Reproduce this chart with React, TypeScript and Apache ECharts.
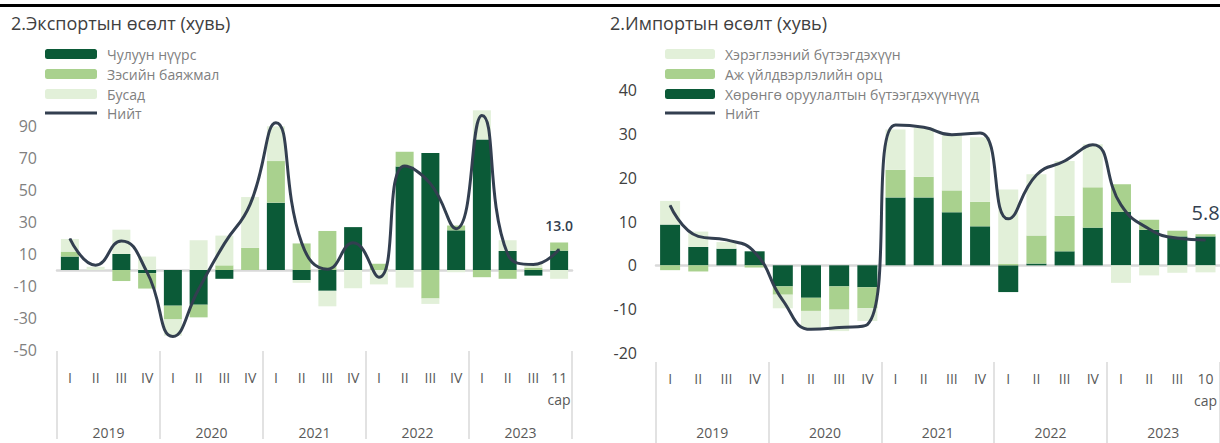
import React, { useEffect, useRef } from "react";
import * as echarts from "echarts";

const FONT = "'Open Sans', 'Noto Sans', sans-serif";

const quartersExp = ["I", "II", "III", "IV", "I", "II", "III", "IV", "I", "II", "III", "IV", "I", "II", "III", "IV", "I", "II", "III", "11\nсар"];
const quartersImp = ["I", "II", "III", "IV", "I", "II", "III", "IV", "I", "II", "III", "IV", "I", "II", "III", "IV", "I", "II", "III", "10\nсар"];
const years = ["2019", "2020", "2021", "2022", "2023"];

// Export growth contributions
const expCoal = [8.4, 0, 10.0, -2.0, -22.3, -21.7, -5.5, 0, 42.1, -6.3, -13.0, 26.8, 0, 64.7, 73.2, 24.8, 81.6, 11.9, -3.5, 12.1];
const expCopper = [3.1, 0, -6.9, -9.6, -8.6, -7.9, 2.9, 13.9, 26.0, 16.6, 24.4, 0, 3.9, 9.2, -17.8, 3.0, -4.5, -5.5, 1.5, 5.1];
const expOther = [7.9, 2.0, 15.2, 8.4, -10.2, 18.6, 18.6, 31.7, 21.7, -1.7, -9.7, -11.4, -9.0, -11.0, -3.4, -1.4, 18.2, 6.7, 3.0, -5.5];
const expTotal = [19.6, 3.0, 18.2, -1.5, -41.5, -12.0, 16.5, 41.0, 92.0, 17.0, 0.5, 17.0, -4.5, 65.0, 54.0, 25.8, 96.5, 10.0, 3.5, 13.0];

// Import growth contributions
const impCapital = [9.3, 4.2, 3.8, 3.2, -4.8, -7.4, -4.8, -5.0, 15.5, 15.5, 12.1, 8.9, -6.1, 0.4, 3.2, 8.6, 12.2, 8.1, 6.6, 6.6];
const impInputs = [-1.1, -1.4, 0, -0.5, -1.9, -3.0, -5.3, -4.8, 6.3, 4.7, 5.0, 5.6, 0.3, 6.4, 8.1, 9.2, 6.3, 2.3, 1.3, 0.5];
const impConsumer = [5.4, 3.5, 1.5, 0, -3.1, -4.1, -4.9, -2.9, 9.2, 11.2, 12.6, 14.7, 17.0, 14.0, 12.5, 9.8, -4.0, -2.3, -1.7, -1.6];
const impTotal = [13.7, 6.6, 5.8, 3.0, -8.0, -14.6, -14.2, -13.5, 32.0, 31.5, 29.8, 30.2, 10.6, 20.6, 23.8, 27.5, 13.8, 8.3, 6.2, 5.8];

const DARK = "#0b5a37";
const MID = "#a9d18e";
const LIGHT = "#e2f0d9";
const LINE = "#333f50";

function lastLabelData(arr: number[], fontSize: number, dy: number, weight: number) {
  return arr.map((v, i) =>
    i === arr.length - 1
      ? {
          value: v,
          label: {
            show: true,
            position: "top",
            distance: dy,
            formatter: (p: any) => Number(p.value).toFixed(1),
            fontSize,
            fontWeight: weight,
            color: LINE,
            fontFamily: FONT,
          },
        }
      : v
  );
}

export default function App() {
  const ref = useRef<HTMLDivElement>(null);
  useEffect(() => {
    if (!ref.current) return;
    const chart = echarts.init(ref.current, undefined, { renderer: "svg" });
    const qLabel = { interval: 0, margin: 16, fontSize: 14, color: "#595959", lineHeight: 22, fontFamily: FONT };
    const legendText = { fontSize: 14, color: "#808080", padding: [0, 0, 0, 5], lineHeight: 14, fontFamily: FONT };
    const lineLegend = (left: number, name: string) => ({
      orient: "vertical", left, top: 101, itemWidth: 52, itemHeight: 3, icon: "rect",
      data: [{ name, icon: "rect", itemStyle: { color: LINE } }],
      textStyle: legendText, selectedMode: false,
    });
    const option: any = {
      animation: false,
      textStyle: { fontFamily: FONT },
      graphic: [
        { type: "rect", shape: { x: 0, y: 4, width: 1220, height: 3 }, style: { fill: "#000" } },
      ],
      title: [
        { text: "2.Экспортын өсөлт (хувь)", left: 6, top: 9, textStyle: { fontSize: 18, fontWeight: "normal", color: "#404040", fontFamily: FONT } },
        { text: "2.Импортын өсөлт (хувь)", left: 605, top: 9, textStyle: { fontSize: 18, fontWeight: "normal", color: "#404040", fontFamily: FONT } },
      ],
      legend: [
        {
          orient: "vertical", left: 40, top: 42, itemWidth: 52, itemHeight: 10, itemGap: 6,
          data: ["Чулуун нүүрс", "Зэсийн баяжмал", "Бусад"],
          textStyle: legendText, selectedMode: false,
        },
        lineLegend(40, "Нийт"),
        {
          orient: "vertical", left: 660, top: 42, itemWidth: 50, itemHeight: 10, itemGap: 6,
          data: ["Хэрэглээний бүтээгдэхүүн", "Аж үйлдвэрлэлийн орц", "Хөрөнгө оруулалтын бүтээгдэхүүнүүд"],
          textStyle: legendText, selectedMode: false,
        },
        { ...lineLegend(660, "Нийт "), itemWidth: 50 },
      ],
      grid: [
        { left: 57, top: 94, width: 515, height: 261 },
        { left: 656, top: 90, width: 565, height: 264 },
      ],
      xAxis: [
        { gridIndex: 0, type: "category", data: quartersExp, position: "bottom", axisLine: { onZero: true, lineStyle: { color: "#d9d9d9", width: 2.5 } }, axisTick: { show: false }, axisLabel: { show: false } },
        { gridIndex: 0, type: "category", data: quartersExp, position: "bottom", axisLine: { show: false, onZero: false }, axisTick: { show: false }, axisLabel: qLabel },
        { gridIndex: 0, type: "category", data: years, position: "bottom", offset: 1, axisLine: { show: false, onZero: false }, axisTick: { show: true, length: 88, lineStyle: { color: "#d9d9d9", width: 1.5 } }, axisLabel: { ...qLabel, margin: 70 } },
        { gridIndex: 1, type: "category", data: quartersImp, position: "bottom", axisLine: { onZero: true, lineStyle: { color: "#d9d9d9", width: 2.5 } }, axisTick: { show: false }, axisLabel: { show: false } },
        { gridIndex: 1, type: "category", data: quartersImp, position: "bottom", axisLine: { show: false, onZero: false }, axisTick: { show: false }, axisLabel: { ...qLabel, margin: 14 } },
        { gridIndex: 1, type: "category", data: years, position: "bottom", offset: 9, axisLine: { show: false, onZero: false }, axisTick: { show: true, length: 82, lineStyle: { color: "#d9d9d9", width: 1.5 } }, axisLabel: { ...qLabel, margin: 59 } },
      ],
      yAxis: [
        { gridIndex: 0, type: "value", min: -50, max: 110, interval: 20, axisLine: { show: false }, axisTick: { show: false }, splitLine: { show: false }, axisLabel: { showMaxLabel: false, margin: 20, fontSize: 16, color: "#808080", fontFamily: FONT } },
        { gridIndex: 1, type: "value", min: -20, max: 40, interval: 10, axisLine: { show: false }, axisTick: { show: false }, splitLine: { show: false }, axisLabel: { margin: 19, fontSize: 16, color: "#404040", fontFamily: FONT } },
      ],
      series: [
        { name: "Чулуун нүүрс", type: "bar", xAxisIndex: 0, yAxisIndex: 0, stack: "exp", data: expCoal, barWidth: 18, itemStyle: { color: DARK } },
        { name: "Зэсийн баяжмал", type: "bar", xAxisIndex: 0, yAxisIndex: 0, stack: "exp", data: expCopper, barWidth: 18, itemStyle: { color: MID } },
        { name: "Бусад", type: "bar", xAxisIndex: 0, yAxisIndex: 0, stack: "exp", data: expOther, barWidth: 18, itemStyle: { color: LIGHT } },
        { name: "Нийт", type: "line", xAxisIndex: 0, yAxisIndex: 0, data: lastLabelData(expTotal, 14, 16, 600), smooth: 0.5, symbol: "circle", symbolSize: 1, showSymbol: true, z: 5, lineStyle: { color: LINE, width: 3 }, itemStyle: { color: LINE } },
        { name: "Хөрөнгө оруулалтын бүтээгдэхүүнүүд", type: "bar", xAxisIndex: 3, yAxisIndex: 1, stack: "imp", data: impCapital, barWidth: 20, itemStyle: { color: DARK } },
        { name: "Аж үйлдвэрлэлийн орц", type: "bar", xAxisIndex: 3, yAxisIndex: 1, stack: "imp", data: impInputs, barWidth: 20, itemStyle: { color: MID } },
        { name: "Хэрэглээний бүтээгдэхүүн", type: "bar", xAxisIndex: 3, yAxisIndex: 1, stack: "imp", data: impConsumer, barWidth: 20, itemStyle: { color: LIGHT } },
        { name: "Нийт ", type: "line", xAxisIndex: 3, yAxisIndex: 1, data: lastLabelData(impTotal, 20, 17, 500), smooth: 0.5, symbol: "circle", symbolSize: 1, showSymbol: true, z: 5, lineStyle: { color: LINE, width: 3 }, itemStyle: { color: LINE } },
      ],
    };
    chart.setOption(option);
    return () => chart.dispose();
  }, []);
  return <div ref={ref} style={{ position: "absolute", left: 0, top: 0, width: 1220, height: 443 }} />;
}
